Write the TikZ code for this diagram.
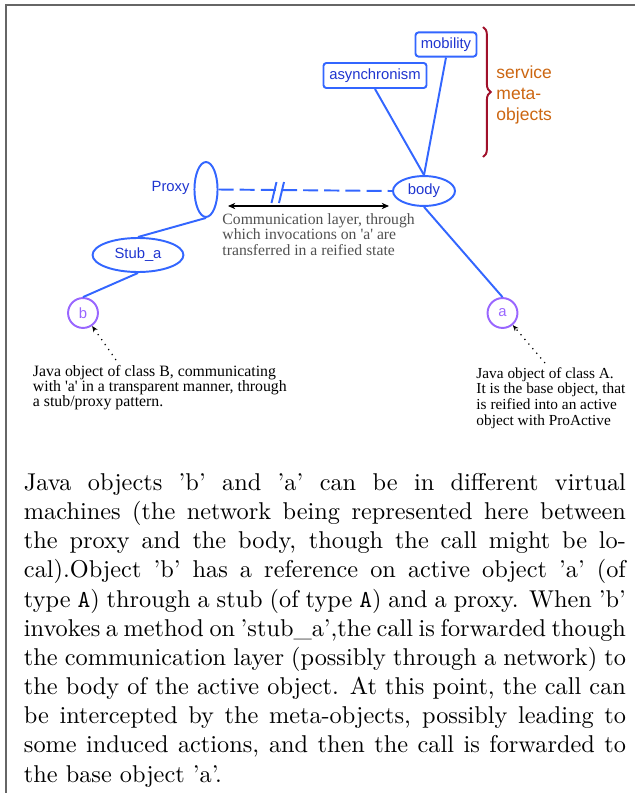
\documentclass[tikz,border=0pt]{standalone}
\usepackage{fontspec}
\newfontfamily\sansf{Liberation Sans}
\newfontfamily\seriff{Liberation Serif}
\usetikzlibrary{arrows.meta,decorations.pathreplacing,shapes.geometric}
\definecolor{lineblue}{HTML}{3366FF}
\definecolor{textblue}{HTML}{1F35D0}
\definecolor{purp}{HTML}{9966FF}
\definecolor{brred}{HTML}{A0102A}
\definecolor{orng}{HTML}{CC6611}
\definecolor{commgray}{HTML}{505050}
\definecolor{framegray}{HTML}{666666}
\begin{document}
\begin{tikzpicture}[x=0.4115pt,y=-0.4115pt,
  bl/.style={draw=lineblue, line width=0.8pt, text=textblue, font=\sansf\fontsize{6.1}{7}\selectfont, inner sep=0pt},
  mbox/.style={bl, rounded corners=1.2pt, fill=white},
  ell/.style={bl, ellipse},
  obj/.style={draw=purp, line width=0.8pt, text=purp, circle, font=\sansf\fontsize{6.1}{7}\selectfont, inner sep=0pt, minimum size=12.3pt},
  link/.style={lineblue, line width=0.8pt},
  note/.style={font=\seriff\fontsize{6.2}{6.2}\selectfont, align=left, inner sep=0pt, anchor=base west},
  pointer/.style={dotted, line width=0.5pt, -{Stealth[length=2.5pt,width=2pt]}}
]
\useasboundingbox (0,0) rectangle (635,793);
% frame
\draw[framegray, line width=0.7pt] (6,793) -- (6,5) -- (635,5);

% meta-objects
\node[mbox, minimum width=25.1pt, minimum height=9.9pt] (mob) at (446,44.5) {mobility};
\node[mbox, minimum width=42.4pt, minimum height=10.3pt] (asy) at (375,75.5) {asynchronism};
\node[ell, minimum width=25.5pt, minimum height=12.3pt] (body) at (424,191) {body};
\node[ell, minimum width=9.5pt, minimum height=22.6pt] (proxy) at (206,189.5) {};
\node[ell, minimum width=37.4pt, minimum height=14pt] (stub) at (138,255) {Stub\_a};
\node[obj] (b) at (83,313) {b};
\node[obj] (a) at (502.5,313) {a};
\node[text=textblue, font=\sansf\fontsize{6.1}{7}\selectfont, anchor=east, inner sep=0pt] (proxylbl) at (190,188) {Proxy};

% links
\draw[link] (asy.south) -- (body.north);
\draw[link] (mob.south) -- (body.north);
\draw[link] (proxy.south) -- (stub.north);
\draw[link] (stub.south) -- (b.north);
\draw[link] (body.south) -- (a.north);
\draw[link, dash pattern=on 6.2pt off 2.5pt] (proxy.east) -- (body.west);
\draw[link] (271.5,203) -- (276.5,182);
\draw[link] (279,203) -- (284,182);

% communication arrow
\coordinate (cl) at (228,206);
\coordinate (cr) at (389,206);
\draw[{Stealth[length=3pt,width=2.6pt]}-{Stealth[length=3pt,width=2.6pt]}, line width=0.45pt] (cl) -- (cr);
\node[note, text=commgray, font=\seriff\fontsize{6.45}{6.3}\selectfont] (comm) at (222,255)
  {Communication layer, through\\which invocations on \textquotesingle a\textquotesingle{} are\\transferred in a reified state};

% brace
\draw[brred, line width=0.8pt, decorate, decoration={brace, amplitude=3.2pt}] (483,27) -- (483,157);
\node[anchor=base west, text=orng, font=\sansf\fontsize{7.2}{8.6}\selectfont, align=left, inner sep=0pt] (svc) at (496,120.5) {service\\meta-\\objects};

% notes
\node[note, font=\seriff\fontsize{6.5}{6.2}\selectfont] (nb) at (32.5,406.5) {Java object of class B, communicating\\with \textquotesingle a\textquotesingle{} in a transparent manner, through\\a stub/proxy pattern.};
\node[note, font=\seriff\fontsize{6.3}{6.4}\selectfont] (na) at (476,425) {Java object of class A.\\It is the base object, that\\is reified into an active\\object with ProActive};
\coordinate (nbs) at (116,360);
\coordinate (nas) at (545,363);
\draw[pointer] (nbs) -- (b);
\draw[pointer] (nas) -- (a);

% paragraph
\node[anchor=base west, text width=247.7pt, align=justify, inner sep=0pt, font=\fontsize{10}{12}\selectfont] (para) at (23.5,490.5)
{Java objects 'b' and 'a' can be in different virtual\linebreak
machines (the network being represented here between\linebreak
the proxy and the body, though the call might be lo-\linebreak
cal).Object 'b' has a reference on active object 'a' (of\linebreak
type \texttt{A}) through a stub (of type \texttt{A}) and a proxy. When 'b'\linebreak
invokes a method on 'stub\_a',the call is forwarded though\linebreak
the communication layer (possibly through a network) to\linebreak
the body of the active object. At this point, the call can\linebreak
be intercepted by the meta-objects, possibly leading to\linebreak
some induced actions, and then the call is forwarded to\linebreak
the base object 'a'.};
\end{tikzpicture}
\end{document}
